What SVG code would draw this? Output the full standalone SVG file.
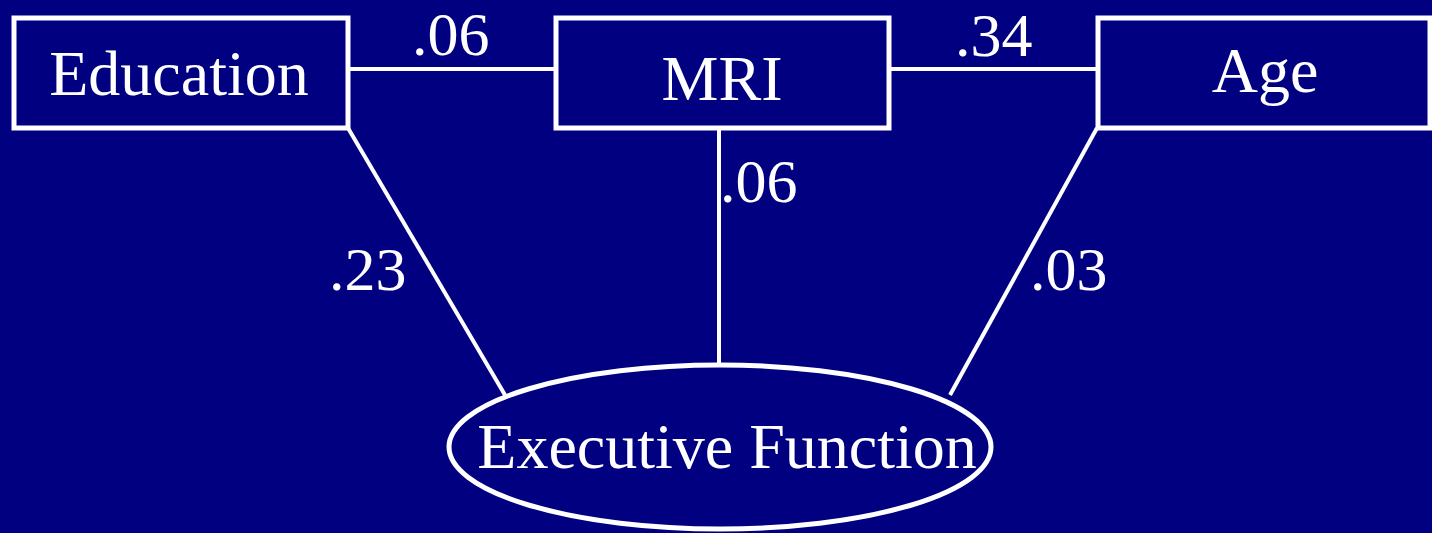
<svg xmlns="http://www.w3.org/2000/svg" width="1432" height="533" viewBox="0 0 1432 533">
<style>
.node{fill:none;stroke:#ffffff;stroke-width:5}
.conn line{stroke:#ffffff;stroke-width:4}
text{font-family:"Liberation Serif","Times New Roman",serif;fill:#ffffff;font-size:64px}
.lbl{font-size:62px}
</style>
<rect x="0" y="0" width="1432" height="533" fill="#000080"/>
<g id="connectors" class="conn">
<line x1="348" y1="69" x2="555" y2="69"/>
<line x1="889" y1="69" x2="1097" y2="69"/>
<line x1="719" y1="128" x2="719" y2="364"/>
<line x1="348" y1="128" x2="505" y2="395"/>
<line x1="1097" y1="128" x2="950" y2="395"/>
</g>
<g id="labels">
<text class="lbl" x="412" y="55">.06</text>
<text class="lbl" x="955" y="56">.34</text>
<text class="lbl" x="720" y="202">.06</text>
<text class="lbl" x="329" y="290">.23</text>
<text class="lbl" x="1030" y="290">.03</text>
</g>
<g id="education">
<rect class="node" x="14" y="18" width="334" height="110"/>
<text x="179" y="95" text-anchor="middle">Education</text>
</g>
<g id="mri">
<rect class="node" x="556" y="18" width="333" height="110"/>
<text x="722" y="100" text-anchor="middle">MRI</text>
</g>
<g id="age">
<rect class="node" x="1098" y="18" width="332" height="110"/>
<text x="1265" y="92" text-anchor="middle">Age</text>
</g>
<g id="executive-function">
<ellipse class="node" cx="720" cy="447" rx="271" ry="82"/>
<text x="727" y="468" text-anchor="middle">Executive Function</text>
</g>
</svg>
